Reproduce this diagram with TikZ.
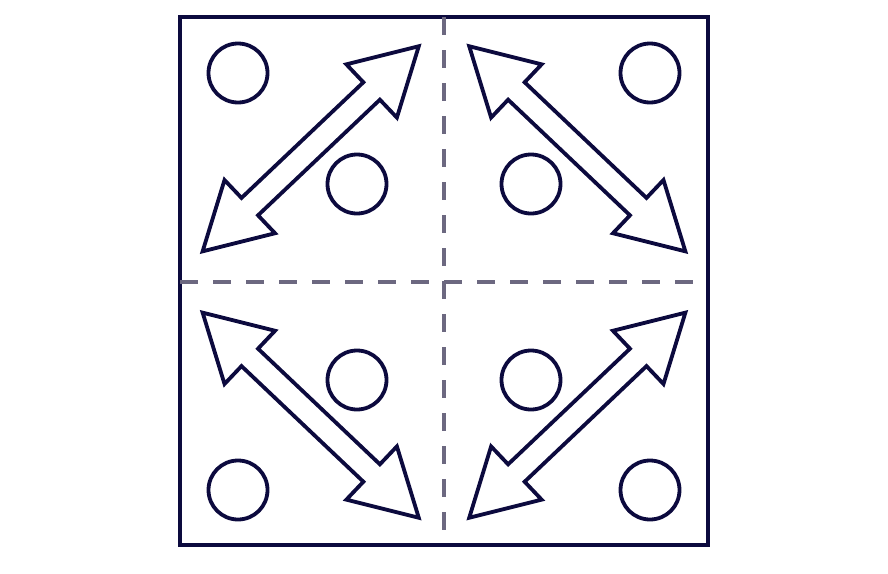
\documentclass[tikz,border=0pt]{standalone}
\usepackage{tikz}

\definecolor{inkblue}{HTML}{0C0A3E}
\definecolor{dashgray}{HTML}{6C6880}

% double arrow, centre and angle
\newcommand{\dubarrow}[3]{
	\draw[arrowline, shift={(#1,#2)}, rotate=#3]
		(-149,0) -- (-84,36.7) -- (-84,12) -- (84,12) -- (84,36.7) -- (149,0)
		-- (84,-36.7) -- (84,-12) -- (-84,-12) -- (-84,-36.7) -- cycle;
}

\tikzset{
	ball/.style={circle, draw=inkblue, line width=3.8pt, minimum size=59pt, inner sep=0pt},
	arrowline/.style={draw=inkblue, line width=3.8pt, line join=miter, fill=white},
	cut/.style={draw=dashgray, line width=3.5pt, dash pattern=on 18pt off 15pt}
}

\begin{document}
\begin{tikzpicture}[x=1pt, y=-1pt]
	\useasboundingbox (0,0) rectangle (888,573);
	\draw[inkblue, line width=4pt] (180,17) rectangle (708,545);
	\coordinate (top) at (444,17);
	\coordinate (bottom) at (444,530);
	\coordinate (left) at (180,282);
	\coordinate (right) at (693,282);
	\draw[cut] (top) -- (bottom);
	\draw[cut] (left) -- (right);
	\node (a1) at (238,73) [ball] {};
		\node (a2) at (357,184) [ball] {};
	\node (b1) at (650,73) [ball] {};
		\node (b2) at (531,184) [ball] {};
	\node (c1) at (238,490) [ball] {};
		\node (c2) at (357,380) [ball] {};
	\node (d1) at (650,490) [ball] {};
		\node (d2) at (531,380) [ball] {};
	\dubarrow{310.7}{148.8}{43.5}
	\dubarrow{577.3}{148.8}{-43.5}
	\dubarrow{310.7}{415.2}{-43.5}
	\dubarrow{577.3}{415.2}{43.5}
\end{tikzpicture}
\end{document}
